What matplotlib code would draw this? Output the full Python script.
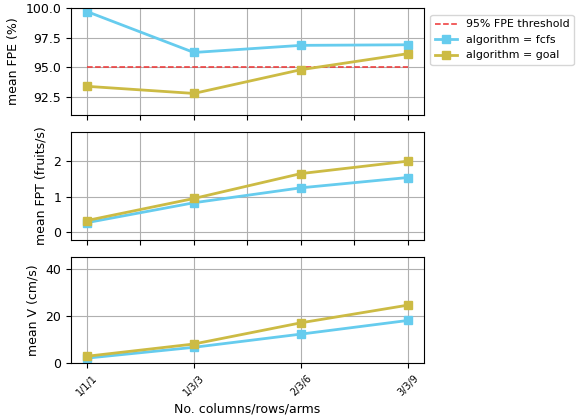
import matplotlib
matplotlib.use("Agg")
import matplotlib.pyplot as plt
import numpy as np

categories = ["1/1/1", "1/3/3", "2/3/6", "3/3/9"]
fpe_fcfs = [99.7, 96.25, 96.85, 96.9]
fpe_goal = [93.4, 92.8, 94.8, 96.15]
fpt_fcfs = [0.27, 0.83, 1.25, 1.54]
fpt_goal = [0.33, 0.95, 1.65, 2.0]
v_fcfs = [2.0, 6.6, 12.2, 18.0]
v_goal = [2.8, 8.0, 17.0, 24.5]
threshold = 95.0

c_fcfs = "#66CCEE"
c_goal = "#CCBB44"

plt.rcParams["font.size"] = 9
fig = plt.figure(figsize=(5.76, 4.19), dpi=100)
L, W = 0.123, 0.613
ax1 = fig.add_axes([L, 0.726, W, 0.255])
ax2 = fig.add_axes([L, 0.427, W, 0.258])
ax3 = fig.add_axes([L, 0.134, W, 0.253])

x = np.arange(len(categories))
kw = dict(marker="s", linewidth=2, markersize=6)

ax1.plot([x[0], x[-1]], [threshold, threshold], "--", color="#EE3333", linewidth=1.1,
         label="95% FPE threshold")
ax1.plot(x, fpe_fcfs, color=c_fcfs, label="algorithm = fcfs", **kw)
ax1.plot(x, fpe_goal, color=c_goal, label="algorithm = goal", **kw)
ax1.set_ylim(91, 100)
ax1.set_yticks([92.5, 95.0, 97.5, 100.0])
ax1.set_ylabel("mean FPE (%)")
ax1.set_xticks(np.arange(0, 3.01, 0.5))
ax1.tick_params(labelbottom=False)
ax1.legend(loc="upper left", bbox_to_anchor=(1.003, 0.985), fontsize=7.9)

ax2.plot(x, fpt_fcfs, color=c_fcfs, **kw)
ax2.plot(x, fpt_goal, color=c_goal, **kw)
ax2.set_ylim(-0.22, 2.82)
ax2.set_yticks([0, 1, 2])
ax2.set_ylabel("mean FPT (fruits/s)")
ax2.set_xticks(np.arange(0, 3.01, 0.5))
ax2.tick_params(labelbottom=False)

ax3.plot(x, v_fcfs, color=c_fcfs, **kw)
ax3.plot(x, v_goal, color=c_goal, **kw)
ax3.set_ylim(0, 45)
ax3.set_yticks([0, 20, 40])
ax3.set_ylabel("mean V (cm/s)")
ax3.set_xticks(x)
ax3.set_xticklabels(categories, rotation=45, fontsize=7)
ax3.set_xlabel("No. columns/rows/arms")

for ax in (ax1, ax2, ax3):
    ax.set_xlim(-0.15, 3.15)
    ax.grid(True, color="#b0b0b0", linewidth=0.8)
    ax.set_axisbelow(True)

fig.savefig("out.png", dpi=100)
